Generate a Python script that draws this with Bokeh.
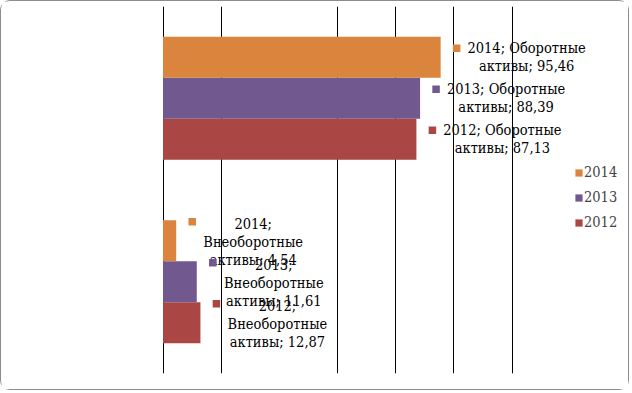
from bokeh.plotting import figure
from bokeh.models import FactorRange, Range1d, Grid, FixedTicker, Legend, LegendItem, ColumnDataSource
from bokeh.core.properties import value
from bokeh.embed import file_html
from bokeh.resources import INLINE

# ---- data ----
categories = ["Внеоборотные активы", "Оборотные активы"]
years = ["2012", "2013", "2014"]
values_2012 = [12.87, 87.13]
values_2013 = [11.61, 88.39]
values_2014 = [4.54, 95.46]
grid_ticks = [0, 20, 60, 80, 100, 120]
legend_order = ["2014", "2013", "2012"]

series = {"2012": values_2012, "2013": values_2013, "2014": values_2014}
colors = {"2012": "#AA4643", "2013": "#71588F", "2014": "#DB843D"}

# ---- layout constants ----
W, H = 629, 390
PX = 58.17 / 20.0          # pixels per unit
ZERO = 161.5               # pixel position of 0 in the frame
UNIT = 41.0                # pixels per category sub-factor
FONT = "DejaVu Serif Condensed"
FSIZE = "14.5px"

factors = [(c, y) for c in categories for y in years]
y_range = FactorRange(*factors, group_padding=1.475, factor_padding=0.0,
                      range_padding=0.7375, range_padding_units="absolute")
x_range = Range1d(-ZERO / PX, (W - ZERO) / PX)

p = figure(width=W, height=H, x_range=x_range, y_range=y_range,
           output_backend="svg", toolbar_location=None,
           x_axis_location=None, y_axis_location=None,
           min_border_left=0, min_border_right=0, min_border_top=5, min_border_bottom=18)
p.outline_line_color = None
p.xgrid.visible = False
p.ygrid.visible = False
p.background_fill_color = "white"
p.border_fill_color = "white"
p.styles = {"position": "absolute", "left": "0px", "top": "0px",
            "border": "1px solid #8c8c8c", "border-radius": "10px"}

p.add_layout(Grid(dimension=0, ticker=FixedTicker(ticks=grid_ticks),
                  grid_line_color="black", grid_line_width=1))

renderers = {}
for yr in years:
    src = ColumnDataSource(dict(y=[(c, yr) for c in categories], v=series[yr]))
    renderers[yr] = p.hbar(y="y", left=0, right="v", height=1.0, source=src,
                           fill_color=colors[yr], line_color=None)

def fmt(v):
    return f"{v:.2f}".replace(".", ",")

# data labels
for yr in legend_order:
    vals = series[yr]
    sq_x, sq_y = [], []
    tx, ty, tt, txo, tyo = [], [], [], [], []
    for c, v in zip(categories, vals):
        word1, word2 = c.split(" ")
        if c == "Оборотные активы":
            lines = [f"{yr}; {word1}", f"{word2}; {fmt(v)}"]
            offs = [-9, 9]
            cx = 86
            sq_dy = 9
        else:
            lines = [f"{yr};", word1, f"{word2}; {fmt(v)}"]
            offs = [-17, 1, 19]
            cx = 77
            sq_dy = 19
        sq_x.append(v + 16 / PX)
        sq_y.append((c, yr, sq_dy / UNIT))
        for ln, o in zip(lines, offs):
            tx.append(v); ty.append((c, yr)); tt.append(ln)
            txo.append(cx); tyo.append(o)
    p.scatter(x=sq_x, y=sq_y, marker="square", size=7.5,
              fill_color=colors[yr], line_color=None)
    tsrc = ColumnDataSource(dict(x=tx, y=ty, text=tt, xo=txo, yo=tyo))
    p.text(x="x", y="y", text="text", x_offset="xo", y_offset="yo", source=tsrc,
           text_font=value(FONT), text_font_size=FSIZE, text_color="black",
           text_align="center", text_baseline="middle")

legend = Legend(items=[LegendItem(label=yr, renderers=[renderers[yr]]) for yr in legend_order],
                location=(573, 143), glyph_width=9, glyph_height=9, label_standoff=1,
                spacing=9, padding=0, margin=0, border_line_color=None,
                background_fill_alpha=0, label_text_font=FONT,
                label_text_font_size=FSIZE, label_height=16)
p.add_layout(legend)

open("out.html", "w").write(file_html(p, INLINE))
